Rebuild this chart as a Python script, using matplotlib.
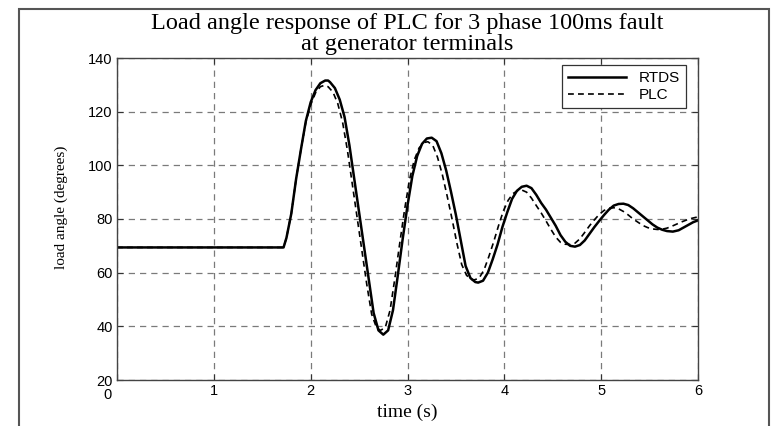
from matplotlib import pyplot as plt
from matplotlib.patches import Rectangle
from matplotlib.transforms import ScaledTranslation

# RTDS (solid) load angle
rtds_t = [0.0, 1.72, 1.75, 1.80, 1.85, 1.90, 1.95, 2.00, 2.05, 2.10, 2.15, 2.18,
          2.20, 2.25, 2.30, 2.35, 2.40, 2.45, 2.50, 2.55, 2.60, 2.65, 2.70, 2.75,
          2.80, 2.85, 2.90, 2.95, 3.00, 3.05, 3.10, 3.15, 3.20, 3.25,
          3.30, 3.35, 3.40, 3.45, 3.50, 3.55, 3.60, 3.65, 3.70, 3.73,
          3.78, 3.83, 3.88, 3.93, 3.98, 4.03, 4.08, 4.13, 4.18, 4.23,
          4.28, 4.33, 4.38, 4.43, 4.48, 4.53, 4.58, 4.63, 4.68, 4.73,
          4.78, 4.83, 4.88, 4.93, 4.98, 5.03, 5.08, 5.13, 5.18, 5.23,
          5.28, 5.33, 5.38, 5.43, 5.48, 5.53, 5.58, 5.63, 5.68, 5.74,
          5.80, 5.85, 5.90, 5.95, 6.00]
rtds_deg = [69.4, 69.4, 73.0, 82.0, 95.0, 106.0, 116.5, 123.5, 128.0, 130.6, 131.6, 131.6,
            131.0, 128.8, 124.5, 118.0, 107.5, 95.0, 82.5, 70.0, 57.5, 45.0, 38.5, 36.9,
            38.5, 46.0, 59.0, 72.5, 85.0, 96.0, 103.5, 108.0, 110.0, 110.3,
            109.0, 104.5, 98.0, 90.0, 81.5, 72.0, 62.5, 58.0, 56.5, 56.3,
            57.0, 60.0, 65.0, 70.5, 77.0, 82.5, 87.5, 90.5, 92.0, 92.4,
            91.5, 89.0, 86.0, 83.5, 80.5, 77.5, 74.0, 71.5, 70.0, 69.7,
            70.3, 72.0, 74.5, 77.0, 79.3, 81.5, 83.5, 85.0, 85.6, 85.7,
            85.2, 84.0, 82.5, 81.0, 79.5, 78.0, 76.8, 76.0, 75.5, 75.3,
            75.8, 76.8, 77.8, 78.8, 79.5]

# PLC (dashed) load angle
plc_t = [0.0, 1.72, 1.75, 1.80, 1.85, 1.90, 1.95, 2.00, 2.05, 2.10, 2.14, 2.18,
         2.23, 2.28, 2.33, 2.38, 2.43, 2.48, 2.53, 2.58, 2.63, 2.68, 2.72, 2.77,
         2.82, 2.87, 2.92, 2.97, 3.02, 3.07, 3.12, 3.17, 3.21, 3.26,
         3.31, 3.36, 3.41, 3.46, 3.51, 3.56, 3.61, 3.66, 3.69, 3.74,
         3.79, 3.84, 3.89, 3.94, 3.99, 4.04, 4.09, 4.14, 4.18, 4.23,
         4.28, 4.33, 4.38, 4.43, 4.48, 4.53, 4.58, 4.63, 4.68, 4.73,
         4.78, 4.83, 4.88, 4.93, 4.98, 5.03, 5.08, 5.13, 5.18, 5.23,
         5.28, 5.33, 5.38, 5.43, 5.48, 5.53, 5.58, 5.63, 5.68, 5.73,
         5.78, 5.83, 5.88, 5.93, 6.00]
plc_deg = [69.4, 69.4, 73.0, 82.0, 95.0, 106.0, 116.0, 122.5, 127.0, 129.3, 129.8, 129.3,
           127.3, 123.0, 116.0, 105.5, 93.0, 80.5, 68.0, 55.5, 44.5, 39.5, 38.5, 39.5,
           46.0, 58.0, 71.0, 83.5, 94.5, 102.0, 106.5, 108.5, 108.8, 107.5,
           103.0, 96.5, 88.5, 80.0, 71.0, 63.0, 59.0, 57.5, 57.3, 58.0,
           61.0, 66.0, 71.5, 77.5, 83.0, 87.0, 89.5, 90.6, 90.8, 90.0,
           87.8, 85.0, 82.3, 79.3, 76.2, 73.3, 71.3, 70.6, 70.5, 71.0,
           72.6, 75.0, 77.5, 79.7, 81.7, 83.2, 84.0, 84.2, 83.8, 82.8,
           81.5, 80.0, 78.8, 77.6, 76.8, 76.3, 76.1, 76.2, 76.6, 77.3,
           78.1, 78.9, 79.6, 80.2, 80.8]

x_ticks = [0, 1, 2, 3, 4, 5, 6]
y_ticks = [20, 40, 60, 80, 100, 120, 140]

fig = plt.figure(figsize=(7.75, 4.26), dpi=100)
ax = fig.add_axes([117 / 775, 1 - 380 / 426, (698 - 117) / 775, (380 - 58) / 426])

# outer frame round the whole picture
fig.patches.append(Rectangle((19 / 775, -0.02), 750 / 775, 1.0 - 9 / 426 + 0.02,
                             transform=fig.transFigure, fill=False,
                             edgecolor='#555555', linewidth=1.5))

ax.plot(rtds_t, rtds_deg, color='black', linewidth=1.8, label='RTDS')
ax.plot(plc_t, plc_deg, color='black', linewidth=1.2, dashes=(3.5, 2.5), label='PLC')

ax.set_xlim(0, 6)
ax.set_ylim(20, 140)
ax.set_xticks(x_ticks)
ax.set_yticks(y_ticks)
ax.tick_params(direction='in', length=4, width=0.8, pad=3, labelsize=10.5,
               top=True, right=True, colors='#333333', labelcolor='black')
for lab in ax.get_xticklabels() + ax.get_yticklabels():
    lab.set_family('Liberation Sans')
# matlab-style: the 0 tick label sits a bit left and below the 20
xl0 = ax.get_xticklabels()[0]
xl0.set_transform(xl0.get_transform() + ScaledTranslation(-10 / 100, -4 / 100, fig.dpi_scale_trans))

ax.grid(True, color='#7a7a7a', linestyle=(0, (5, 4)), linewidth=0.9)
for s in ax.spines.values():
    s.set_color('#444444')
    s.set_linewidth(1.0)

ax.set_xlabel('time (s)', family='Liberation Serif', fontsize=14, labelpad=1)
ax.set_ylabel('load angle (degrees)', family='Liberation Serif', fontsize=11)
ax.yaxis.set_label_coords(-0.085, 0.537)
fig.text(407 / 775, 1 - 34 / 426,
         'Load angle response of PLC for 3 phase 100ms fault\nat generator terminals',
         family='Liberation Serif', fontsize=17.5, ha='center', va='center', linespacing=0.95)

leg = ax.legend(loc='upper right', bbox_to_anchor=(1 - 12 / 581, 1 - 7 / 322),
                borderaxespad=0, fancybox=False, framealpha=1, edgecolor='#333333',
                handlelength=3.8, prop={'family': 'Liberation Sans', 'size': 11},
                borderpad=0.4, labelspacing=0.2)
leg.get_frame().set_linewidth(0.9)

fig.savefig('out.png', dpi=100)
